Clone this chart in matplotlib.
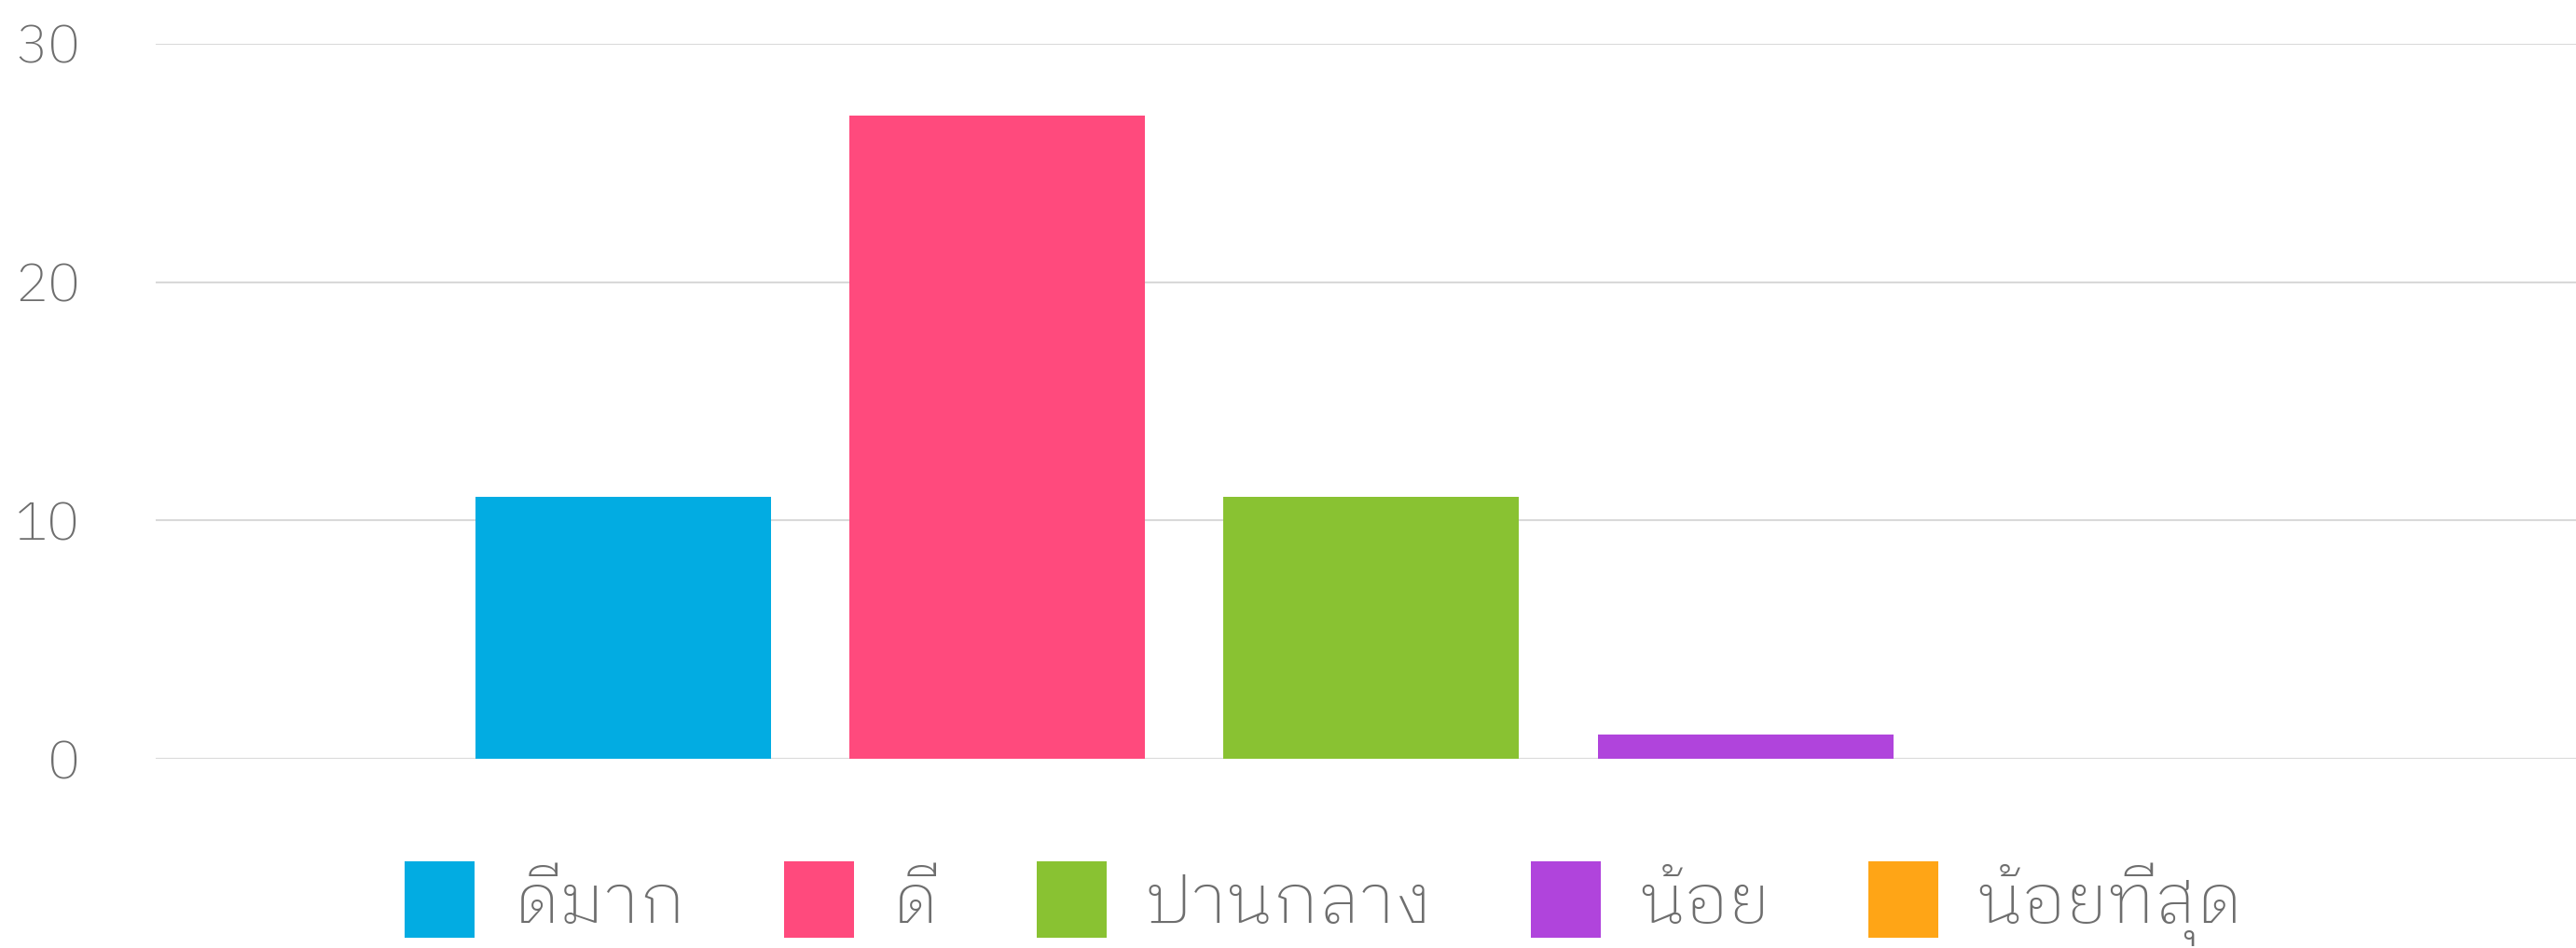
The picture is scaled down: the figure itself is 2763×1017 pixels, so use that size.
import numpy as np
import matplotlib
matplotlib.use("Agg")
import matplotlib.pyplot as plt

plt.rcParams["font.family"] = ["IBM Plex Sans Thai Looped", "DejaVu Sans"]
plt.rcParams["font.weight"] = "light"

categories = ["ดีมาก", "ดี", "ปานกลาง", "น้อย", "น้อยที่สุด"]
values = [11, 27, 11, 1, 0]
colors = ["#02ACE2", "#FF4A7D", "#89C232", "#B044DC", "#FFA516"]
y_ticks = [0, 10, 20, 30]

TEXT_COLOR = "#6E6E6E"
GRID_COLOR = "#D9D9D9"

fig = plt.figure(figsize=(27.63, 10.17), dpi=100)
ax = fig.add_axes([0.0604, 0.1996, 0.9396, 0.7542])

# one group, one bar per answer
pos = np.arange(len(categories)) - (len(categories) - 1) / 2
for x, v, c, name in zip(pos, values, colors, categories):
    ax.bar(x, v, width=0.79, color=c, label=name, zorder=3)

ax.set_xlim(-3.25, 3.22)
ax.set_ylim(0, 30)
ax.set_yticks(y_ticks)
ax.set_xticks([])
ax.tick_params(axis="y", length=0, pad=58, labelsize=42, labelcolor=TEXT_COLOR)
ax.grid(axis="y", color=GRID_COLOR, linewidth=1.5, zorder=0)
for s in ax.spines.values():
    s.set_visible(False)

fig.legend(
    loc="lower center",
    bbox_to_anchor=(0.514, -0.028),
    ncol=5,
    frameon=False,
    fontsize=54,
    labelcolor=TEXT_COLOR,
    handlelength=1.0,
    handleheight=1.3,
    handletextpad=0.55,
    columnspacing=1.4,
    borderaxespad=0,
)

fig.savefig("out.png", dpi=100)
